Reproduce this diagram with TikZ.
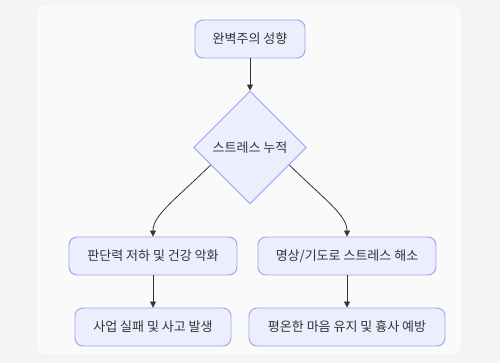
\documentclass[tikz,border=0pt]{standalone}
\usepackage{fontspec}
\setmainfont{Noto Sans CJK KR}
\usetikzlibrary{shapes.geometric,arrows.meta}
\definecolor{bgout}{HTML}{F4F4F4}
\definecolor{bgin}{HTML}{FAFAFA}
\definecolor{nfill}{HTML}{ECEEFE}
\definecolor{nline}{HTML}{98A2F6}
\definecolor{txt}{HTML}{333333}
\definecolor{edge}{HTML}{333333}
\tikzset{
  boxnode/.style={draw=nline, fill=nfill, line width=0.9pt, rounded corners=8pt, text=txt, font=\fontsize{13}{15}\selectfont, inner sep=0pt, minimum height=38pt},
  decnode/.style={draw=nline, fill=nfill, line width=0.9pt, diamond, aspect=1, text=txt, font=\fontsize{13}{15}\selectfont, inner sep=0pt, minimum width=113pt, minimum height=113pt},
  conn/.style={draw=edge, line width=0.8pt, -{Triangle[length=6pt,width=6pt]}}
}
\begin{document}
\begin{tikzpicture}[x=1pt,y=-1pt]
\useasboundingbox (0,0) rectangle (500,363);
\fill[bgout] (0,0) rectangle (500,363);
\fill[bgin, rounded corners=8pt] (37,5) rectangle (461,354);
\node[boxnode, minimum width=110pt] (a) at (250,39) {완벽주의 성향};
\node[decnode] (b) at (250,147.5) {스트레스 누적};
\node[boxnode, minimum width=168pt] (c) at (153,256) {판단력 저하 및 건강 악화};
\node[boxnode, minimum width=178pt] (d) at (347,256) {명상/기도로 스트레스 해소};
\node[boxnode, minimum width=156pt] (e) at (153,327) {사업 실패 및 사고 발생};
\node[boxnode, minimum width=196pt] (f) at (347,327) {평온한 마음 유지 및 흉사 예방};
\draw[conn] (a.south) -- (b.north);
\draw[conn] (b.204) .. controls (175,200) and (153,215) .. (c.north);
\draw[conn] (b.-24) .. controls (325,200) and (347,215) .. (d.north);
\draw[conn] (c.south) -- (e.north);
\draw[conn] (d.south) -- (f.north);
\end{tikzpicture}
\end{document}
